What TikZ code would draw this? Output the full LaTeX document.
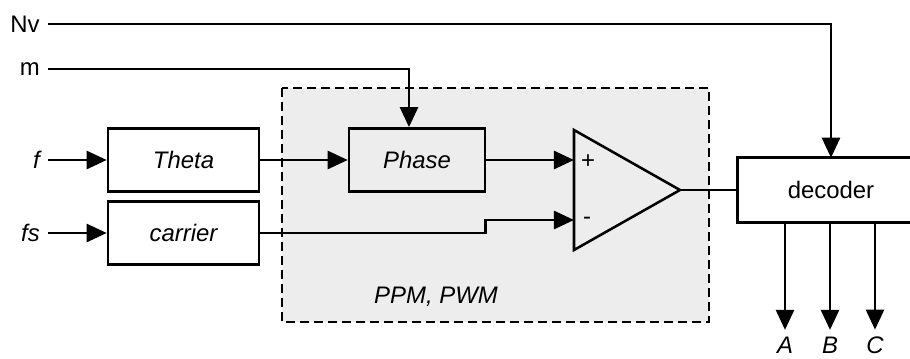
\documentclass[tikz,border=0pt]{standalone}
\usepackage{fontspec}
\setmainfont{Liberation Sans}
\usetikzlibrary{arrows.meta}
\definecolor{panelgray}{RGB}{237,237,237}
\begin{document}
\begin{tikzpicture}[x=0.025cm, y=-0.025cm, line width=1.8pt,
	every node/.style={font=\fontsize{17}{20}\selectfont, inner sep=0pt},
	lab/.style={font=\fontsize{17}{20}\selectfont\itshape},
	box/.style={draw, minimum width=3.775cm, minimum height=1.58cm},
	sig/.style={-{Triangle[length=0.5cm, width=0.45cm]}},
	inlbl/.style={anchor=east, inner sep=5pt}]
	\useasboundingbox (0,0) rectangle (910,358);
	% modulator panel
	\draw[fill=panelgray, dash pattern=on 0.225cm off 0.125cm] (282,88) rectangle (709,322);
	\node[lab] (mode) at (436,297) {PPM, PWM};
	% inputs
	\node[inlbl] (Nv) at (48,24) {Nv};
	\node[inlbl] (m) at (48,69) {m};
	\node[inlbl, lab] (f) at (48,160) {f};
	\node[inlbl, lab] (fs) at (48,233) {fs};
	% blocks
	\node[box, lab, fill=white] (theta) at (183.5,160) {Theta};
	\node[box, lab, fill=white] (carrier) at (183.5,233) {carrier};
	\node[box, lab, minimum width=3.4cm] (phase) at (417,160) {Phase};
	\node[minimum width=4.6cm, minimum height=1.55cm] (dec) at (831,190) {decoder};
	\coordinate (edge) at (910,0);
	\draw (dec.north west -| edge) -- (dec.north west) -- (dec.south west) -- (dec.south west -| edge);
	% comparator
	\coordinate (cplus) at (574,160);
	\coordinate (cminus) at (574,220);
	\coordinate (cout) at (680,190);
	\draw (574,130) -- (cout) -- (574,250) -- cycle;
	\node[font=\fontsize{17}{20}\selectfont] (plus) at (588,162) {+};
	\node[font=\fontsize{17}{20}\selectfont] (minus) at (587,221) {-};
	% signals
	\draw[sig] (Nv.east) -| (dec.north);
	\draw[sig] (m.east) -| ([xshift=-0.2cm]phase.north);
	\draw[sig] (f.east) -- (theta.west);
	\draw[sig] (fs.east) -- (carrier.west);
	\draw[sig] (theta.east) -- (phase.west);
	\draw[sig] (phase.east) -- (cplus);
	\draw[sig] (carrier.east) -- ++(225,0) |- (cminus);
	\draw (cout) -- (dec.west);
	\foreach \x/\name in {785/A, 830/B, 875/C} {
		\node[lab, inner sep=4pt] (\name) at (\x,345) {\name};
		\draw[sig] (dec.south -| \name) -- (\name.north);
	}
\end{tikzpicture}
\end{document}
